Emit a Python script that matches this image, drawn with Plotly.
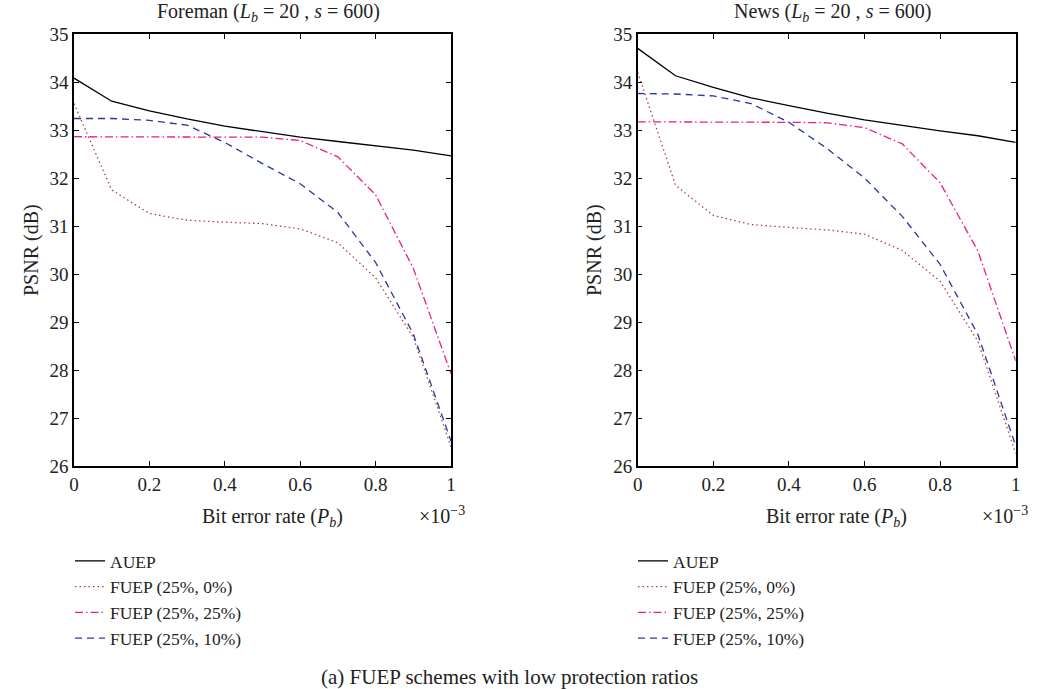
import plotly.graph_objects as go
from plotly.subplots import make_subplots

# Bit error rate (x 1e-3)
ber = [0.0, 0.1, 0.2, 0.3, 0.4, 0.5, 0.6, 0.7, 0.8, 0.9, 1.0]

# Foreman
foreman_auep = [34.08, 33.60, 33.40, 33.23, 33.08, 32.96, 32.85, 32.76, 32.67, 32.58, 32.46]
foreman_f25_0 = [33.55, 31.75, 31.26, 31.12, 31.08, 31.05, 30.94, 30.65, 29.92, 28.68, 26.40]
foreman_f25_25 = [32.86, 32.86, 32.86, 32.86, 32.86, 32.85, 32.78, 32.44, 31.65, 30.12, 27.92]
foreman_f25_10 = [33.24, 33.24, 33.20, 33.10, 32.74, 32.30, 31.88, 31.28, 30.24, 28.75, 26.52]

# News
news_auep = [34.70, 34.13, 33.89, 33.67, 33.51, 33.35, 33.21, 33.09, 32.98, 32.88, 32.74]
news_f25_0 = [34.20, 31.85, 31.22, 31.03, 30.97, 30.92, 30.83, 30.49, 29.85, 28.60, 26.26]
news_f25_25 = [33.17, 33.17, 33.17, 33.17, 33.16, 33.15, 33.05, 32.71, 31.90, 30.48, 28.19]
news_f25_10 = [33.76, 33.75, 33.71, 33.55, 33.16, 32.62, 32.00, 31.20, 30.20, 28.74, 26.42]

series_names = ["AUEP", "FUEP (25%, 0%)", "FUEP (25%, 25%)", "FUEP (25%, 10%)"]
colors = ["#000000", "#b0423e", "#ec1c8c", "#2a36a0"]
dashes = ["solid", "1.5px,3px", "8px,3px,1.5px,3px", "7px,5px"]

x_ticks = [0, 0.2, 0.4, 0.6, 0.8, 1.0]
x_tick_text = ["0", "0.2", "0.4", "0.6", "0.8", "1"]
y_ticks = [26, 27, 28, 29, 30, 31, 32, 33, 34, 35]

FONT = "Liberation Serif, Times New Roman, serif"
TXT = "#222"
W, H = 1038, 689


def px(x):
    return x / W


def py(y):
    return 1 - y / H


fig = make_subplots(rows=1, cols=2)

for col, data, leg in [(1, [foreman_auep, foreman_f25_0, foreman_f25_25, foreman_f25_10], "legend"),
                       (2, [news_auep, news_f25_0, news_f25_25, news_f25_10], "legend2")]:
    for name, ys, c, d in zip(series_names, data, colors, dashes):
        fig.add_trace(go.Scatter(x=ber, y=ys, mode="lines", name=name,
                                 line=dict(color=c, width=1.3, dash=d),
                                 legend=leg), row=1, col=col)

axis_common = dict(showline=True, linecolor="black", linewidth=1.5, mirror="ticks",
                   ticks="inside", ticklen=5, tickcolor="black", showgrid=False, zeroline=False,
                   automargin=False, tickfont=dict(family=FONT, size=19, color=TXT))

L1, R1 = 74, 451
L2, R2 = 637.7, 1015.7
ytop, ybot = 34, 466
ydom = [py(ybot), py(ytop)]
fig.update_layout(
    xaxis=dict(domain=[px(L1), px(R1)], range=[0, 1], tickvals=x_ticks, ticktext=x_tick_text, **axis_common),
    xaxis2=dict(domain=[px(L2), px(R2)], range=[0, 1], tickvals=x_ticks, ticktext=x_tick_text, **axis_common),
    yaxis=dict(domain=ydom, range=[26, 35], tickvals=y_ticks, **axis_common),
    yaxis2=dict(domain=ydom, range=[26, 35], tickvals=y_ticks, **axis_common),
)

leg_common = dict(font=dict(family=FONT, size=17.5, color=TXT), bgcolor="rgba(0,0,0,0)",
                  yanchor="top", xanchor="left", tracegroupgap=0, itemwidth=30)
fig.update_layout(
    legend=dict(x=px(70), y=py(543), **leg_common),
    legend2=dict(x=px(633), y=py(543), **leg_common),
)

annots = [
    dict(x=px(268), y=py(13), text="Foreman (<i>L<sub>b</sub></i> = 20 , <i>s</i> = 600)"),
    dict(x=px(832), y=py(13), text="News (<i>L<sub>b</sub></i> = 20 , <i>s</i> = 600)"),
    dict(x=px(272), y=py(517), text="Bit error rate (<i>P<sub>b</sub></i>)"),
    dict(x=px(836), y=py(517), text="Bit error rate (<i>P<sub>b</sub></i>)"),
    dict(x=px(442), y=py(515), text="×10<sup>−3</sup>"),
    dict(x=px(1005), y=py(515), text="×10<sup>−3</sup>"),
    dict(x=px(31), y=py(250), text="PSNR (dB)", textangle=-90),
    dict(x=px(594), y=py(250), text="PSNR (dB)", textangle=-90),
    dict(x=px(509), y=py(677), text="(a) FUEP schemes with low protection ratios", font_size=21),
]
for a in annots:
    a.setdefault("font", dict(family=FONT, size=a.pop("font_size", 20), color=TXT))
    fig.add_annotation(xref="paper", yref="paper", showarrow=False, xanchor="center", yanchor="middle", **a)

fig.update_layout(width=W, height=H, margin=dict(l=0, r=0, t=0, b=0, autoexpand=False),
                  paper_bgcolor="white", plot_bgcolor="white", showlegend=True)

fig.write_html("out.html", config={"displayModeBar": False},
               post_script="document.body.style.margin='0';document.body.style.overflow='hidden';")
